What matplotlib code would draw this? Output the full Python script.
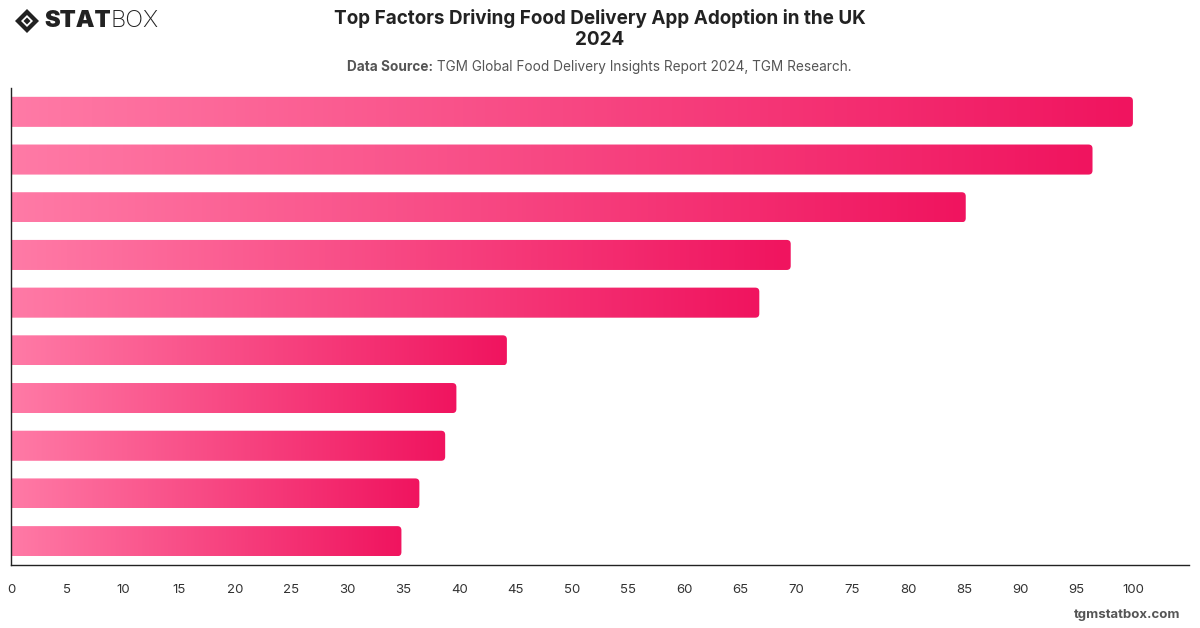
import matplotlib.pyplot as plt
import numpy as np
from matplotlib.patches import FancyBboxPatch, Polygon
from matplotlib.colors import LinearSegmentedColormap

# values, top bar first
ranks = list(range(1, 11))
values = [100, 96.4, 85.1, 69.5, 66.7, 44.2, 39.7, 38.7, 36.4, 34.8]
x_ticks = list(range(0, 101, 5))

title = 'Top Factors Driving Food Delivery App Adoption in the UK\n2024'
source_label = 'Data Source:'
source_text = ' TGM Global Food Delivery Insights Report 2024, TGM Research.'

plt.rcParams['font.family'] = ['Inter', 'DejaVu Sans']

cmap = LinearSegmentedColormap.from_list('pinks', ['#ff7aa6', '#f0145f'])
grad = np.linspace(0, 1, 256).reshape(1, -1)

fig = plt.figure(figsize=(12, 6.28), dpi=100)
ax = fig.add_axes([11 / 1200, 63 / 628, 1178 / 1200, 477 / 628])

bar_h = 0.63
n = len(values)
for i, v in enumerate(values):
    yc = n - 1 - i
    box = FancyBboxPatch((-1, yc - bar_h / 2), v + 1, bar_h,
                         boxstyle='round,pad=0,rounding_size=0.36',
                         mutation_aspect=0.235, facecolor='none',
                         edgecolor='none')
    ax.add_patch(box)
    im = ax.imshow(grad, cmap=cmap, aspect='auto',
                   extent=(0, v, yc - bar_h / 2, yc + bar_h / 2),
                   interpolation='bilinear', zorder=2)
    im.set_clip_path(box)

ax.set_xlim(0, 105)
ax.set_ylim(-0.5, n - 0.5)
ax.set_xticks(x_ticks)
ax.set_yticks([])
ax.tick_params(axis='x', length=0, pad=14, labelsize=9.5, labelcolor='#333333')
for s in ['top', 'right']:
    ax.spines[s].set_visible(False)
for s in ['left', 'bottom']:
    ax.spines[s].set_color('#222222')
    ax.spines[s].set_linewidth(1.0)

fig.text(0.5, 1 - 29 / 628, title, ha='center', va='center', fontsize=13.6,
         fontweight='bold', color='#222222', linespacing=1.2)
t1 = fig.text(347 / 1200, 1 - 67 / 628, source_label, ha='left', va='center',
              fontsize=9.8, fontweight='bold', color='#555555')
fig.canvas.draw()
bb = t1.get_window_extent()
fig.text(bb.x1 / 1200, 1 - 67 / 628, source_text, ha='left', va='center',
         fontsize=9.8, color='#555555')

# logo
lx, ly = 27 / 1200, 1 - 21 / 628
dx, dy = 12 / 1200, 12 / 628
outer = Polygon([[lx - dx, ly], [lx, ly + dy], [lx + dx, ly], [lx, ly - dy]],
                closed=True, transform=fig.transFigure, facecolor='#222222',
                edgecolor='none')
fig.patches.append(outer)
dx2, dy2 = 6 / 1200, 6 / 628
inner = Polygon([[lx - dx2, ly], [lx, ly + dy2], [lx + dx2, ly], [lx, ly - dy2]],
                closed=True, transform=fig.transFigure, facecolor='white',
                edgecolor='none')
fig.patches.append(inner)
dx3, dy3 = 3.5 / 1200, 3.5 / 628
core = Polygon([[lx - dx3, ly], [lx, ly + dy3], [lx + dx3, ly], [lx, ly - dy3]],
               closed=True, transform=fig.transFigure, facecolor='#222222',
               edgecolor='none')
fig.patches.append(core)
s1 = fig.text(44 / 1200, ly, 'STAT', ha='left', va='center', fontsize=17,
              fontweight='black', color='#222222')
fig.canvas.draw()
sb = s1.get_window_extent()
fig.text(sb.x1 / 1200, ly, 'BOX', ha='left', va='center', fontsize=17,
         fontweight='light', color='#222222')

fig.text(1180 / 1200, 1 - 615 / 628, 'tgmstatbox.com', ha='right', va='center',
         fontsize=9.5, fontweight='bold', color='#555555')

fig.savefig('out.png', dpi=100)
